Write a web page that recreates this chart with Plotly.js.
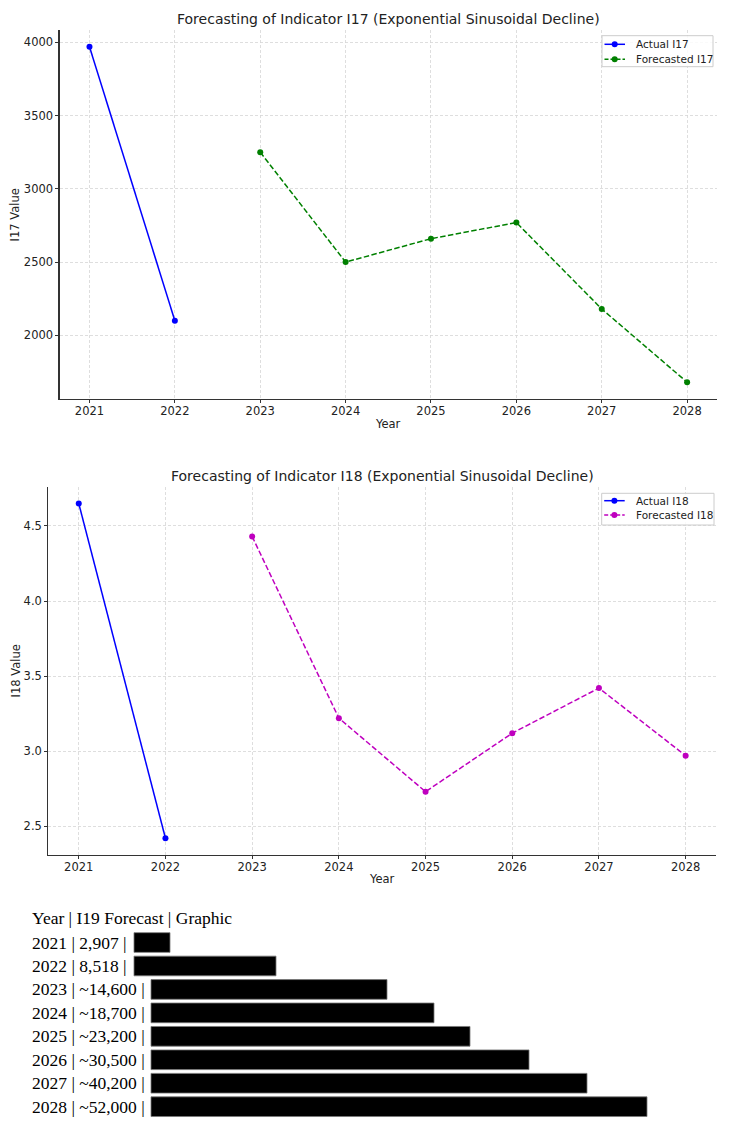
<!DOCTYPE html>
<html>
<head>
<meta charset="utf-8">
<script src="https://cdn.plot.ly/plotly-3.0.1.min.js"></script>
<style>html,body{margin:0;padding:0;background:#fff;}#chart{width:731px;height:1127px;}</style>
</head>
<body>
<div id="chart"></div>
<script>
// ---- data ----
const years = [2021, 2022, 2023, 2024, 2025, 2026, 2027, 2028];
const actualYears = [2021, 2022];
const forecastYears = [2023, 2024, 2025, 2026, 2027, 2028];
const i17Actual = [3970, 2100];
const i17Forecast = [3250, 2500, 2660, 2770, 2180, 1680];
const i18Actual = [4.65, 2.42];
const i18Forecast = [4.43, 3.22, 2.73, 3.12, 3.42, 2.97];
const i19Labels = ['2,907', '8,518', '~14,600', '~18,700', '~23,200', '~30,500', '~40,200', '~52,000'];
const i19Graphic = [36, 142, 236, 283, 319, 378, 436, 496];
const i17Ticks = [2000, 2500, 3000, 3500, 4000];
const i18Ticks = [2.5, 3.0, 3.5, 4.0, 4.5];

// ---- helpers ----
const W = 731, H = 1127;
const px = v => v / W;
const py = v => 1 - v / H;
function padRange(arr) {
  const mn = Math.min(...arr), mx = Math.max(...arr), d = (mx - mn) * 0.05;
  return [mn - d, mx + d];
}
const FONT = 'DejaVu Sans';
const SERIF = 'Liberation Serif';
const TXT = '#222';
const dashPat = '5.5px,2.4px';
const BLUE = '#0000ff', GREEN = '#008000', MAG = '#bf00bf';

const traces = [
  {x: actualYears, y: i17Actual, name: 'Actual I17', mode: 'lines+markers', xaxis: 'x', yaxis: 'y',
   line: {color: BLUE, width: 1.5}, marker: {color: BLUE, size: 6}},
  {x: forecastYears, y: i17Forecast, name: 'Forecasted I17', mode: 'lines+markers', xaxis: 'x', yaxis: 'y',
   line: {color: GREEN, width: 1.5, dash: dashPat}, marker: {color: GREEN, size: 6}},
  {x: actualYears, y: i18Actual, name: 'Actual I18', mode: 'lines+markers', xaxis: 'x2', yaxis: 'y2',
   line: {color: BLUE, width: 1.5}, marker: {color: BLUE, size: 6}},
  {x: forecastYears, y: i18Forecast, name: 'Forecasted I18', mode: 'lines+markers', xaxis: 'x2', yaxis: 'y2',
   line: {color: MAG, width: 1.5, dash: dashPat}, marker: {color: MAG, size: 6}},
  {type: 'bar', orientation: 'h', y: years.map(String), x: i19Graphic,
   base: i19Labels.map(l => l.startsWith('~') ? 151 : 134),
   xaxis: 'x3', yaxis: 'y3', width: 0.84,
   marker: {color: '#000', line: {color: '#777', width: 0.8}}, hoverinfo: 'skip'}
];

const gridCommon = {showgrid: true, gridcolor: '#d6d6d6', gridwidth: 0.8, griddash: '3px,2px',
  showline: true, linecolor: '#333', linewidth: 1.2, ticks: 'outside', ticklen: 3, tickcolor: '#333', tickwidth: 1,
  zeroline: false, tickfont: {family: FONT, size: 11.5, color: TXT}, fixedrange: true};

const xr = [years[0] - 0.35, years[years.length - 1] + 0.35];

const layout = {
  width: W, height: H, margin: {l: 0, r: 0, t: 0, b: 0},
  paper_bgcolor: '#fff', plot_bgcolor: '#fff',
  font: {family: FONT, color: TXT},
  showlegend: false,
  xaxis: Object.assign({}, gridCommon, {domain: [px(59.6), px(717)], anchor: 'y', range: xr, tickvals: years, ticklabelstandoff: -2}),
  yaxis: Object.assign({}, gridCommon, {domain: [py(399), py(30)], anchor: 'x', range: padRange(i17Actual.concat(i17Forecast)), tickvals: i17Ticks}),
  xaxis2: Object.assign({}, gridCommon, {domain: [px(48.4), px(716)], anchor: 'y2', range: xr, tickvals: years, ticklabelstandoff: -2}),
  yaxis2: Object.assign({}, gridCommon, {domain: [py(855), py(486.7)], anchor: 'x2', range: padRange(i18Actual.concat(i18Forecast)), tickvals: i18Ticks, tickformat: '.1f'}),
  xaxis3: {domain: [0, 1], range: [0, W], visible: false, anchor: 'y3', fixedrange: true},
  yaxis3: {domain: [py(1118.4), py(930.8)], type: 'category', categoryarray: years.map(String), range: [7.5, -0.5], visible: false, anchor: 'x3', fixedrange: true},
  annotations: [],
  shapes: []
};

const A = layout.annotations, S = layout.shapes;
function ann(text, x, y, opts) {
  A.push(Object.assign({text: text, x: px(x), y: py(y), xref: 'paper', yref: 'paper', showarrow: false,
    xanchor: 'center', yanchor: 'middle', font: {family: FONT, size: 11.5, color: TXT}}, opts || {}));
}
ann('Forecasting of Indicator I17 (Exponential Sinusoidal Decline)', 388.3, 19, {font: {family: FONT, size: 14, color: TXT}});
ann('Forecasting of Indicator I18 (Exponential Sinusoidal Decline)', 382.2, 476, {font: {family: FONT, size: 14, color: TXT}});
ann('Year', 388.3, 424.3);
ann('Year', 382.2, 879.3);
ann('I17 Value', 14.5, 215, {textangle: -90});
ann('I18 Value', 15, 671.5, {textangle: -90});

// ---- legends (drawn from trace names / colours) ----
function legendBox(box, items) {
  S.push({type: 'rect', xref: 'paper', yref: 'paper', x0: px(box[0]), x1: px(box[1]), y0: py(box[3]), y1: py(box[2]),
    line: {color: '#cccccc', width: 1}, fillcolor: 'rgba(255,255,255,0.85)', layer: 'above'});
  items.forEach((it) => {
    const tr = traces[it.trace];
    const yy = it.y;
    S.push({type: 'line', xref: 'paper', yref: 'paper', x0: px(box[0] + 2.5), x1: px(box[0] + 23), y0: py(yy), y1: py(yy),
      line: {color: tr.line.color, width: 1.5, dash: tr.line.dash ? '4px,2px' : 'solid'}, layer: 'above'});
    const cx = box[0] + 12.7;
    S.push({type: 'circle', xref: 'paper', yref: 'paper', x0: px(cx - 3), x1: px(cx + 3), y0: py(yy + 3), y1: py(yy - 3),
      fillcolor: tr.marker.color, line: {width: 0}, layer: 'above'});
    ann(tr.name, box[0] + 32, yy, {xanchor: 'left', font: {family: FONT, size: 10.5, color: TXT}});
  });
}
legendBox([602, 713, 35.7, 66.7], [{trace: 0, y: 44.3}, {trace: 1, y: 59.3}]);
legendBox([601.7, 714, 493.3, 525], [{trace: 2, y: 500.7}, {trace: 3, y: 515}]);

// ---- I19 text table ----
const sep = ' | ';
ann('Year' + sep + 'I19 Forecast' + sep + 'Graphic', 30, 918, {xanchor: 'left', font: {family: SERIF, size: 17.5, color: '#000'}});
years.forEach((yr, i) => {
  A.push({text: yr + sep + i19Labels[i] + ' |', x: px(30), xref: 'paper', y: i, yref: 'y3',
    xanchor: 'left', yanchor: 'middle', showarrow: false, font: {family: SERIF, size: 17.5, color: '#000'}});
});

Plotly.newPlot('chart', traces, layout, {displayModeBar: false, staticPlot: true});
</script>
</body>
</html>
